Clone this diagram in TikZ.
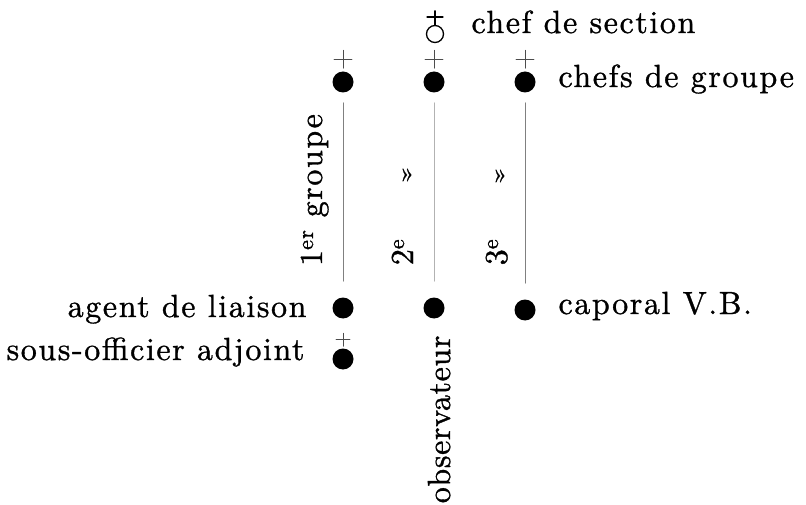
\documentclass[tikz,border=0pt]{standalone}
\usepackage{fontspec}
\setmainfont{lmroman10-regular}[Extension=.otf,LetterSpace=5,FakeBold=1]

\begin{document}
\begin{tikzpicture}[line cap=round,line join=round,x=1pt,y=-1pt,
  every node/.style={font=\fontsize{32}{36}\selectfont},
  soldat/.style={circle,fill=black,inner sep=0pt,minimum size=21pt},
  croix/.style={black!70,line width=0.8pt},
  ligne/.style={gray,line width=0.7pt,shorten <=10pt,shorten >=16pt}]
\useasboundingbox (0,0) rectangle (806,505);
% chef de section
\node[circle,draw,line width=1.3pt,inner sep=0pt,minimum size=17pt] (cds) at (435,34) {};
\draw[line width=1.3pt] (cds.north) -- ++(0,-14);
\draw[line width=1.3pt] (427,17) -- (443,17);
\node[anchor=base west] (tcds) at (468,33) {chef de section};
% chefs de groupe
\node[soldat] (g1) at (343,82) {};
\node[soldat] (g2) at (434,82) {};
\node[soldat] (g3) at (525,82) {};
\node[anchor=base west] (tcg) at (555,87) {chefs de groupe};
% bas des groupes
\node[soldat] (b1) at (343,308) {};
\node[soldat] (b2) at (434,308) {};
\node[soldat] (b3) at (525,310) {};
\node[soldat] (soa) at (343,359) {};
\node[anchor=base east] (tal) at (310,317) {agent de liaison};
\node[anchor=base east] (tsoa) at (308,360) {sous-officier adjoint};
\node[anchor=base west] (tcap) at (555,314) {caporal V.B.};
% croix des grades
\foreach \n in {g1,g2,g3}
  \draw[croix] ([yshift=3pt]\n.north) -- ++(0,-18) ++(-9,9) -- ++(18,0);
\draw[croix] ([yshift=2pt]soa.north) -- ++(0,-13) ++(-7,6.5) -- ++(14,0);
% lignes
\draw[ligne] (g1) -- (b1);
\draw[ligne,gray!60] (g2) -- (b2);
\draw[ligne] (g3) -- (b3);
% textes verticaux
\node[rotate=90,anchor=base] (t1) at (322,190) {1\textsuperscript{er} groupe};
\node[rotate=90,anchor=base] (t2) at (413,252) {2\textsuperscript{e}};
\node[rotate=90,anchor=base] (t3) at (507,252) {3\textsuperscript{e}};
\node[font=\fontsize{26}{26}\selectfont] (d2) at (407,175) {»};
\node[font=\fontsize{26}{26}\selectfont] (d3) at (500,176) {»};
\node[rotate=90,anchor=base east] (tobs) at (450,332) {\addfontfeature{LetterSpace=2}observateur};
\end{tikzpicture}
\end{document}
